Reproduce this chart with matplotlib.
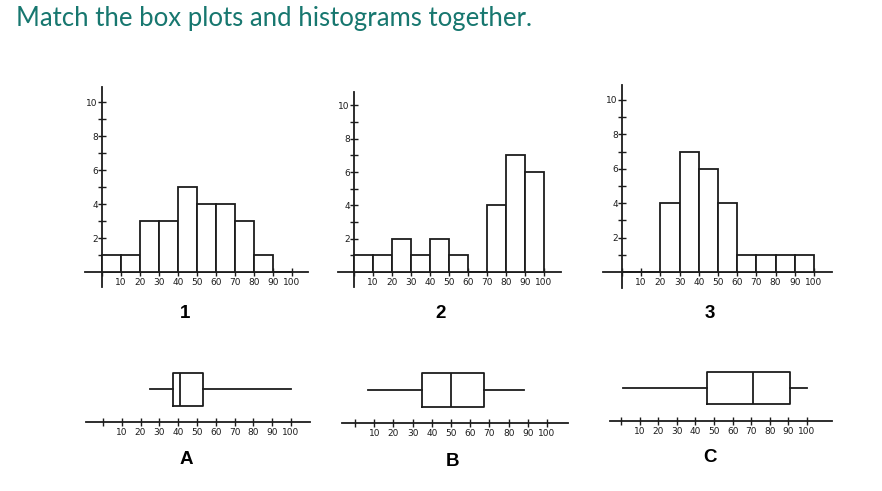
import matplotlib.pyplot as plt

W, H = 882, 491

# histogram data: left edge of each bin and count
bin_left = [0, 10, 20, 30, 40, 50, 60, 70, 80, 90]
hist_1 = [1, 1, 3, 3, 5, 4, 4, 3, 1, 0]
hist_2 = [1, 1, 2, 1, 2, 1, 0, 4, 7, 6]
hist_3 = [0, 0, 4, 7, 6, 4, 1, 1, 1, 1]
hist_names = ['1', '2', '3']

# box plots: whisker low, q1, median, q3, whisker high
box_a = [25, 37, 41, 53, 100]
box_b = [7, 35, 50, 67, 88]
box_c = [1, 46, 71, 91, 100]
box_names = ['A', 'B', 'C']

x_ticks = [0, 10, 20, 30, 40, 50, 60, 70, 80, 90, 100]
x_labels = ['', '10', '20', '30', '40', '50', '60', '70', '80', '90', '100']
y_ticks = [1, 2, 3, 4, 5, 6, 7, 8, 9, 10]
y_labels = ['', '2', '', '4', '', '6', '', '8', '', '10']

ink = '#1c1c1c'
lw = 1.3


def px_axes(fig, l, t, r, b):
    return fig.add_axes([l / W, 1 - b / H, (r - l) / W, (b - t) / H])


def style_axis(ax):
    for s in ['top', 'right']:
        ax.spines[s].set_visible(False)
    ax.spines['bottom'].set_position(('data', 0))
    ax.spines['bottom'].set_linewidth(lw)
    ax.spines['bottom'].set_color(ink)
    ax.set_xticks(x_ticks)
    ax.set_xticklabels(x_labels)
    ax.tick_params(axis='x', direction='inout', length=6, width=1, pad=1,
                   labelsize=6.5, colors=ink)
    ax.set_facecolor('none')


fig = plt.figure(figsize=(W / 100, H / 100), dpi=100)

fig.text(16 / W, 1 - 26 / H, 'Match the box plots and histograms together.',
         color='#17776f', fontsize=18.5, family='Lato', va='baseline')

# histograms
hist_boxes = [(85, 87, 308, 287, (-9.0, 108.5), (-0.88, 10.9), 185),
              (338, 92, 561, 287, (-8.4, 109.0), (-0.9, 10.8), 441),
              (603, 85, 832, 288, (-9.9, 109.4), (-0.93, 10.87), 710)]
for counts, name, (l, t, r, b, xl, yl, lx) in zip([hist_1, hist_2, hist_3], hist_names, hist_boxes):
    ax = px_axes(fig, l, t, r, b)
    ax.bar(bin_left, counts, width=10, align='edge', facecolor='white',
           edgecolor=ink, linewidth=lw, zorder=3)
    ax.set_xlim(*xl)
    ax.set_ylim(*yl)
    style_axis(ax)
    ax.spines['left'].set_position(('data', 0))
    ax.spines['left'].set_linewidth(lw)
    ax.spines['left'].set_color(ink)
    ax.set_yticks(y_ticks)
    ax.set_yticklabels(y_labels)
    ax.tick_params(axis='y', direction='inout', length=6, width=1, pad=0,
                   labelsize=6.5, colors=ink)
    fig.text(lx / W, 1 - 313 / H, name, fontsize=13.5, fontweight='bold',
             family='Liberation Sans', ha='center', va='center', color='black')

# box plots
box_axes = [(86, 365, 310, 430, (-9.0, 110.1), (-0.8, 5.7), 3.3, 3.3, 186, 460),
            (342, 365, 568, 431, (-6.8, 110.9), (-0.8, 5.8), 3.3, 3.4, 452, 462),
            (610, 363, 832, 429, (-5.9, 113.4), (-0.8, 5.8), 3.3, 3.2, 710, 458)]
for vals, name, (l, t, r, b, xl, yl, pos, wd, lx, ly) in zip([box_a, box_b, box_c], box_names, box_axes):
    ax = px_axes(fig, l, t, r, b)
    stats = [{'whislo': vals[0], 'q1': vals[1], 'med': vals[2],
              'q3': vals[3], 'whishi': vals[4], 'fliers': []}]
    line = {'color': ink, 'linewidth': lw}
    ax.bxp(stats, positions=[pos], widths=wd, orientation='horizontal',
           showcaps=False, showfliers=False, manage_ticks=False,
           boxprops=line, whiskerprops=line, medianprops=line)
    ax.set_xlim(*xl)
    ax.set_ylim(*yl)
    style_axis(ax)
    ax.spines['left'].set_visible(False)
    ax.set_yticks([])
    fig.text(lx / W, 1 - ly / H, name, fontsize=13.5, fontweight='bold',
             family='Liberation Sans', ha='center', va='center', color='black')

fig.savefig('out.png', dpi=100)
